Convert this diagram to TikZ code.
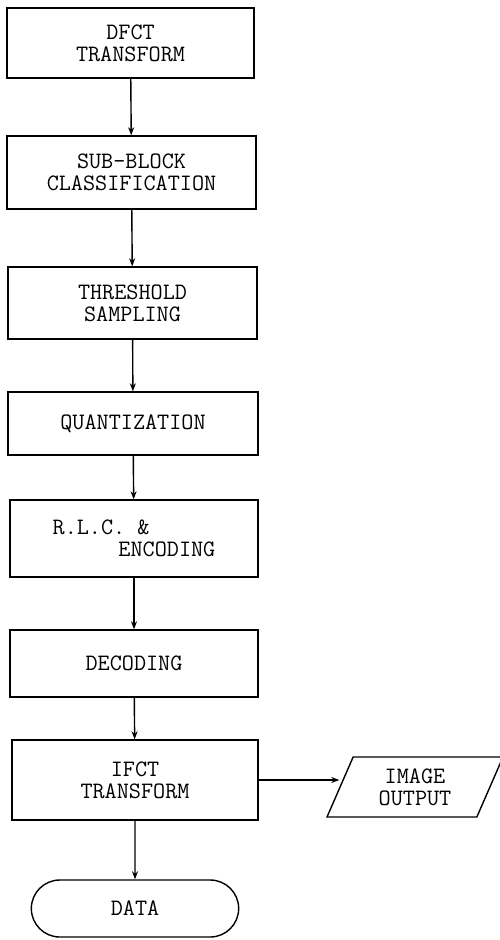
\documentclass[tikz,border=0pt]{standalone}
\usepackage{fontspec}
\usetikzlibrary{arrows.meta,shapes.geometric,shapes.misc}

\begin{document}
\begin{tikzpicture}[
        x=1pt, y=-1pt,
        line width=1.4pt,
        font=\ttfamily\fontsize{23.5}{22}\selectfont,
        stage/.style={draw, rectangle, align=center, inner sep=0pt},
        terminal/.style={draw, rounded rectangle, minimum width=214pt, minimum height=57pt},
        io/.style={draw, trapezium, trapezium left angle=69, trapezium right angle=111,
            trapezium stretches=true, minimum width=176pt, minimum height=60pt, align=center},
        flow/.style={-{Stealth[length=8pt,width=6pt]}}
    ]
        \useasboundingbox (0,0) rectangle (499,940);
        % Coding chain
        \node[stage, minimum width=247pt, minimum height=70pt] (dfct) at (130.5,43) {DFCT\\TRANSFORM};
        \node[stage, minimum width=249pt, minimum height=73pt] (sub) at (131.5,172.5) {SUB-BLOCK\\CLASSIFICATION};
        \node[stage, minimum width=249pt, minimum height=72pt] (thr) at (132.5,303) {THRESHOLD\\SAMPLING};
        \node[stage, minimum width=250pt, minimum height=63pt] (quant) at (133,423.5) {QUANTIZATION};
        \node[stage, minimum width=248pt, minimum height=77pt, align=left] (rlc) at (134,538.5) {R.L.C. \&\\\hspace*{2.8em}ENCODING};
        \node[stage, minimum width=248pt, minimum height=67pt] (dec) at (134,663.5) {DECODING};
        \node[stage, minimum width=246pt, minimum height=80pt] (ifct) at (135,780) {IFCT\\TRANSFORM};
        \node[terminal] (data) at (135,908.5) {DATA};
        \node[io] (out) at (415,787) {IMAGE\\OUTPUT};
        \foreach \from/\to in {dfct/sub, sub/thr, thr/quant, quant/rlc, rlc/dec, dec/ifct, ifct/data} {
            \draw[flow] (\from) -- (\to);
        }
        \draw[flow] (ifct.east) -- (ifct.east -| out.west);
    \end{tikzpicture}
\end{document}
